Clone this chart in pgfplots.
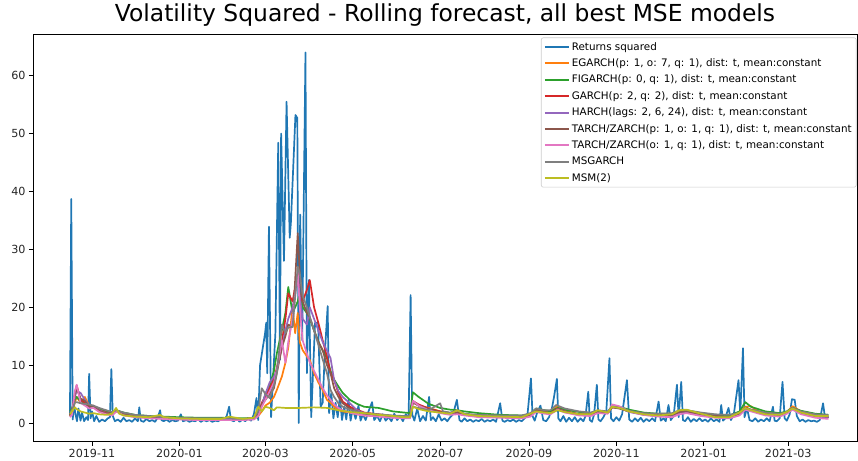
\documentclass[border=0pt]{standalone}
\usepackage{fontspec}
\setmainfont{DejaVu Sans}
\usepackage{pgfplots}
\pgfplotsset{compat=1.18}
\definecolor{c0}{HTML}{1F77B4}
\definecolor{c1}{HTML}{FF7F0E}
\definecolor{c2}{HTML}{2CA02C}
\definecolor{c3}{HTML}{D62728}
\definecolor{c4}{HTML}{9467BD}
\definecolor{c5}{HTML}{8C564B}
\definecolor{c6}{HTML}{E377C2}
\definecolor{c7}{HTML}{7F7F7F}
\definecolor{c8}{HTML}{BCBD22}
\begin{document}
\begin{tikzpicture}
\begin{axis}[
  name=ax, at={(33bp,19.5bp)}, anchor=south west,
  scale only axis, width=824bp, height=407.5bp,
  xmin=-41.2, xmax=534, ymin=-3.2, ymax=67.2,
  axis line style={black, line width=0.7bp},
  tick style={black, line width=0.7bp},
  tick align=outside, major tick length=4bp,
  xtick={0,61,121,182,243,305,366,427,486},
  xticklabels={2019-11,2020-01,2020-03,2020-05,2020-07,2020-09,2020-11,2021-01,2021-03},
  ytick={0,10,20,30,40,50,60},
  xtick pos=bottom, ytick pos=left,
  /pgf/number format/assume math mode=true,
  ticklabel style={font=\fontsize{11.2}{13}\selectfont, text=black!85},
  xticklabel style={yshift=-0.5bp},
  title={Volatility Squared - Rolling forecast, all best MSE models},
  title style={font=\fontsize{23.5}{27}\selectfont, at={(0.5,1)}, anchor=base, yshift=6.5bp},
  legend cell align=left,
  legend style={at={(1,1)}, anchor=north east, xshift=-0.5bp, yshift=-3.5bp,
    draw=black!20, rounded corners=2pt, font=\fontsize{10.4}{12}\selectfont,
    row sep=3.05bp, inner sep=2.5bp, line width=0.6bp},
  legend image code/.code={\draw[#1, line width=2.1bp] (0bp,0bp) -- (24bp,0bp);},
  every axis plot/.append style={line width=1.7bp, line join=round},
]
% Returns squared
\addplot[c0] coordinates {
(-15.4,1.2) (-14.5,38.7) (-13.5,0.6) (-12.5,3.0) (-11.5,1.5) (-10.5,0.3) (-9.5,2.5) (-8,0.4) (-7,1.8) (-5.5,0.3) (-4,1.0) (-2.8,0.5) (-2,8.5) (-1,0.8) (0,2.0) (1.5,0.3) (3,1.2) (5,0.2) (7,0.6) (9,0.3) (11,0.8) (12.5,1.0) (13.5,9.3) (14.5,1.2) (16,0.3) (18,0.6) (20,0.2) (22,0.9) (24,0.3) (26,0.5) (28,0.2) (30,0.8) (32,0.3) (33,2.7) (34,0.4) (36,0.2) (38,0.7) (40,0.3) (42,0.5) (44,0.2) (46,1.0) (47.5,2.2) (48.5,0.5) (50,0.3) (52,0.6) (54,0.2) (56,0.5) (58,0.3) (60,0.4) (62,1.5) (63.5,0.3) (66,0.5) (68,0.2) (70,0.4) (72,0.3) (74,0.6) (76,0.2) (78,0.5) (80,0.3) (82,0.5) (84,0.2) (86,0.4) (88,0.3) (90,0.6) (92,0.5) (94,1.2) (95.7,2.8) (97,0.5) (99,0.3) (101,0.8) (103,0.2) (105,0.6) (107,0.3) (109,0.8) (111,0.4) (113,1.5) (114.8,4.3) (116,0.5) (117.3,10) (120.8,15.5) (121.6,17.3) (122.3,8.6) (123.5,33.9) (125,1.0) (128,15.5) (130,48.4) (131.2,10.9) (132,50) (134,28) (135.8,55.5) (138,32) (138.8,34.5) (142,53.2) (143.3,52.7) (144.3,0.0) (145.3,36) (146.7,14.3) (149,64) (150,8.6) (151.4,24.7) (153,1.0) (155.7,17.3) (157.8,17.3) (159.6,2.8) (161,3.5) (162.5,12) (164.5,20.2) (165.5,1.7) (167,5.2) (168.5,0.8) (170,3.5) (171.5,1.0) (173,4.5) (174.5,0.5) (176,2.8) (177.5,0.6) (179,4.0) (180.5,0.4) (182,2.5) (184,0.7) (186,3.0) (187.5,0.4) (189,1.5) (191,0.5) (193,2.0) (195.5,3.6) (197,0.5) (199,1.2) (201,0.3) (203,1.5) (205,0.4) (207,1.0) (209,0.3) (211,1.6) (213,0.5) (215,1.2) (217,0.3) (219,1.5) (221,1.0) (222.4,22.1) (223.5,1.5) (225,0.4) (227,2.5) (229,0.3) (231,1.2) (233,0.4) (235.3,4.5) (236.5,0.5) (238,1.0) (240,0.3) (242,1.5) (244,0.4) (246,0.8) (248,0.3) (250,1.0) (252,1.5) (254.7,4.0) (256.5,0.5) (258,0.2) (260,0.8) (262,0.3) (264,0.6) (266,0.2) (268,0.5) (270,0.3) (272,0.7) (274,0.2) (276,0.5) (278,0.3) (280,0.6) (282,0.2) (284.9,3.4) (286.5,0.4) (288,0.2) (290,0.5) (292,0.3) (294,0.6) (296,0.2) (298,0.5) (300,0.3) (302,0.8) (304,1.5) (306.4,7.7) (307.5,1.2) (309,0.4) (311,2.0) (313,3.0) (315,0.5) (317,0.3) (319,1.0) (321,2.5) (322.5,4.5) (324.5,7.6) (325.5,0.8) (327,0.3) (329,1.2) (331,0.2) (333,0.9) (335,0.3) (337,1.0) (339,0.2) (341,0.8) (343,0.3) (344.5,1.2) (346.4,5.4) (347.5,0.5) (349,0.2) (350.5,1.5) (352.4,6.6) (353.5,0.6) (355,0.3) (357,1.0) (359,2.0) (361.2,11.2) (362.3,0.8) (364,0.3) (366,1.0) (368,0.4) (370,1.5) (373.4,7.4) (375,0.6) (377,0.2) (379,0.8) (381,0.3) (383,0.9) (385,0.2) (387,0.7) (389,0.3) (391,0.8) (393,0.3) (395.5,3.7) (397,0.4) (399,0.8) (400.5,0.3) (402.4,3.1) (404,0.5) (406,1.2) (408.3,6.6) (409.5,1.0) (411.3,7.1) (412.5,0.5) (414,0.3) (416,1.0) (418,0.2) (420,0.7) (422,0.3) (424,0.8) (426,0.3) (428,0.6) (430,0.2) (432,0.8) (434,0.3) (436,0.6) (438,0.2) (439.2,3.1) (440.5,0.4) (442,0.8) (444.3,2.6) (446,0.5) (448,1.5) (451.3,7.4) (452.5,1.5) (454.4,12.9) (455.5,1.0) (457.2,2.6) (459,0.5) (461,0.3) (463,0.8) (465,0.2) (467,0.6) (469,0.3) (471,0.8) (473,0.3) (475.3,2.8) (476.5,0.4) (478,0.3) (480,0.8) (482,7.1) (483.5,0.8) (485,0.4) (487,1.5) (488.6,4.1) (490.5,4.0) (492,1.2) (494,0.3) (496,0.6) (498,0.2) (500,0.5) (502,0.3) (504,0.4) (506,0.2) (508,0.5) (510.3,3.4) (511.5,1.2) (513,0.8) (514,1.1)
};
\addlegendentry{Returns squared}
% EGARCH
\addplot[c1] coordinates {
(-15.4,1.2) (-14,1.8) (-12,3.5) (-10.7,4.5) (-8,3.5) (-5,4.5) (-2,3.0) (1,2.8) (5,2.0) (10,1.6) (14,1.4) (17,2.0) (22,1.4) (30,1.1) (40,0.9) (50,0.8) (60,0.7) (75,0.6) (90,0.6) (105,0.6) (113,0.7) (116,1.2) (118.5,2.0) (121,3.0) (124,3.5) (127,4.5) (129,5.7) (132.5,8) (135,10.4) (137,13) (140,20) (141.8,15.5) (143.6,19) (145,14) (147,12.6) (150,11.5) (152,10.9) (155,8.6) (158,7.0) (161,5.7) (164,4.0) (166.5,3.5) (169,2.8) (172,2.2) (175,2.0) (180,1.8) (185,1.5) (190,1.3) (200,1.2) (210,1.0) (218,0.9) (222,0.9) (224,3.6) (228,3.0) (235,2.6) (243,2.0) (250,1.7) (255,1.8) (260,1.5) (270,1.2) (285,1.1) (300,1.0) (306,1.4) (310,2.3) (316,2.0) (320,1.8) (325,3.0) (330,2.1) (340,1.5) (348,1.5) (353,2.0) (360,1.8) (363,2.8) (368,2.6) (375,2.0) (385,1.5) (395,1.3) (405,1.3) (410,2.0) (415,2.1) (425,1.5) (435,1.2) (445,1.1) (452,1.8) (456,2.8) (460,2.9) (463,2.3) (470,1.6) (480,1.4) (485,1.9) (489,2.9) (495,2.0) (505,1.2) (514,1.3)
};
\addlegendentry{EGARCH(p: 1, o: 7, q: 1), dist: t, mean:constant}
% FIGARCH
\addplot[c2] coordinates {
(-15.4,2.0) (-14,2.5) (-12,4.0) (-10.7,4.5) (-8,3.8) (-5,3.2) (-2,3.0) (1,2.8) (5,2.4) (10,2.0) (14,1.8) (17,2.2) (22,1.8) (30,1.4) (40,1.2) (50,1.1) (60,1.0) (75,0.9) (90,0.9) (105,0.8) (113,0.9) (116,1.5) (118.5,3.0) (121,5.0) (124,6.5) (127,9.0) (129,12) (132.5,16) (135,19) (137,23.5) (140,19) (143.6,21) (145,22.4) (147,20) (150,19) (152,18) (155,16) (158,14) (161,12.5) (164,11.2) (166.5,9) (169,7.5) (172,6.3) (175,5.2) (180,4.0) (185,3.3) (190,2.8) (200,2.6) (210,2.0) (218,1.8) (222,1.7) (224,5.3) (228,4.5) (235,3.3) (243,2.6) (250,2.3) (255,2.2) (260,2.0) (270,1.7) (285,1.4) (300,1.3) (306,1.5) (310,2.5) (316,2.2) (320,2.0) (325,2.6) (330,2.3) (340,1.9) (348,1.7) (353,2.0) (360,1.9) (363,2.9) (368,2.8) (375,2.3) (385,1.8) (395,1.6) (405,1.6) (410,2.1) (415,2.2) (425,1.7) (435,1.4) (445,1.3) (452,2.0) (456,3.6) (460,2.8) (470,2.0) (480,1.7) (485,2.0) (489,2.6) (495,2.1) (505,1.6) (514,1.4)
};
\addlegendentry{FIGARCH(p: 0, q: 1), dist: t, mean:constant}
% GARCH
\addplot[c3] coordinates {
(-15.4,1.5) (-14,2.0) (-12,5.0) (-10.7,6.5) (-8,4.0) (-5,3.5) (-2,2.8) (1,3.0) (5,2.2) (10,1.8) (14,1.5) (17,2.2) (22,1.5) (30,1.2) (40,1.0) (50,0.9) (60,0.8) (75,0.7) (90,0.7) (105,0.6) (113,0.8) (116,1.5) (118.5,3.5) (121,4.5) (124,6.0) (127,7.5) (129,9.5) (132.5,14) (135,18) (137,22.4) (140,21) (143.6,25.9) (145,22) (147,21) (150,23) (152,24.7) (155,20) (158,17.3) (161,14.3) (164,11.4) (166.5,8.6) (169,7.4) (172,5.2) (175,3.7) (180,2.8) (185,2.3) (190,1.8) (200,1.5) (210,1.2) (218,1.0) (222,1.0) (224,3.8) (228,3.2) (235,2.5) (243,2.0) (250,1.7) (255,1.8) (260,1.5) (270,1.2) (285,1.1) (300,1.0) (306,1.3) (310,2.2) (316,1.8) (320,1.7) (325,2.5) (330,2.0) (340,1.5) (348,1.4) (353,1.8) (360,1.7) (363,2.7) (368,2.6) (375,2.0) (385,1.5) (395,1.3) (405,1.4) (410,1.9) (415,2.0) (425,1.5) (435,1.2) (445,1.0) (452,1.6) (456,2.6) (460,2.2) (470,1.6) (480,1.4) (485,1.8) (489,2.5) (495,1.8) (505,1.2) (514,1.0)
};
\addlegendentry{GARCH(p: 2, q: 2), dist: t, mean:constant}
% HARCH
\addplot[c4] coordinates {
(-15.4,1.3) (-14,1.5) (-12,4.5) (-10.7,5.5) (-8,5.2) (-5,4.0) (-2,3.0) (1,2.8) (5,2.2) (10,1.7) (14,1.5) (17,2.1) (22,1.5) (30,1.1) (40,0.9) (50,0.8) (60,0.7) (75,0.6) (90,0.6) (105,0.6) (113,0.8) (116,1.4) (118.5,3.0) (121,5.0) (124,7.0) (127,8.0) (129,9.0) (132.5,13) (135,16) (137,18) (140,20) (143.6,25) (145,22) (147,18) (150,17) (152,20) (155,18) (158,16) (161,14) (164,12.5) (166.5,11.2) (169,7.4) (172,5.5) (175,4.5) (180,3.4) (185,2.2) (190,1.7) (200,1.3) (210,1.0) (218,0.9) (222,0.9) (224,3.8) (228,3.0) (235,2.3) (243,1.8) (250,1.6) (255,1.7) (260,1.4) (270,1.2) (285,1.0) (300,1.0) (306,1.3) (310,2.0) (316,1.8) (320,1.6) (325,2.4) (330,2.0) (340,1.4) (348,1.3) (353,1.8) (360,1.7) (363,2.8) (368,2.6) (375,1.9) (385,1.4) (395,1.2) (405,1.3) (410,1.8) (415,1.9) (425,1.4) (435,1.1) (445,1.0) (452,1.6) (456,2.6) (460,2.2) (470,1.5) (480,1.3) (485,1.7) (489,2.4) (495,1.7) (505,1.1) (514,1.0)
};
\addlegendentry{HARCH(lags: 2, 6, 24), dist: t, mean:constant}
% TARCH p1 o1 q1
\addplot[c5] coordinates {
(-15.4,1.4) (-14,1.8) (-12,4.8) (-10.7,6.0) (-8,4.2) (-5,3.8) (-2,2.9) (1,2.8) (5,2.1) (10,1.7) (14,1.5) (17,2.2) (22,1.5) (30,1.2) (40,1.0) (50,0.9) (60,0.8) (75,0.7) (90,0.7) (105,0.6) (113,0.8) (116,1.5) (118.5,3.2) (121,4.0) (124,5.0) (127,6.0) (129,8.6) (132.5,13) (135,15) (137,17) (140,16.6) (143.6,32.8) (145,26) (147,21) (150,19) (152,18.3) (155,16) (158,14) (161,12.6) (164,10) (166.5,8.6) (169,6) (172,4.5) (175,3.4) (180,2.5) (185,2.0) (190,1.6) (200,1.3) (210,1.1) (218,1.0) (222,1.0) (224,3.5) (228,3.0) (235,2.4) (243,1.9) (250,1.7) (255,1.8) (260,1.5) (270,1.2) (285,1.1) (300,1.0) (306,1.3) (310,2.2) (316,1.9) (320,1.7) (325,2.4) (330,2.0) (340,1.5) (348,1.4) (353,1.8) (360,1.7) (363,2.7) (368,2.5) (375,2.0) (385,1.5) (395,1.3) (405,1.4) (410,1.9) (415,2.0) (425,1.5) (435,1.2) (445,1.0) (452,1.6) (456,2.7) (460,2.3) (470,1.6) (480,1.4) (485,1.8) (489,2.5) (495,1.8) (505,1.2) (514,1.1)
};
\addlegendentry{TARCH/ZARCH(p: 1, o: 1, q: 1), dist: t, mean:constant}
% TARCH o1 q1
\addplot[c6] coordinates {
(-15.4,1.0) (-14,1.4) (-12,5.5) (-10.7,6.6) (-8,3.5) (-5,3.0) (-2,2.5) (1,2.6) (5,1.9) (10,1.5) (14,1.3) (17,2.0) (22,1.3) (30,1.0) (40,0.8) (50,0.7) (60,0.6) (75,0.5) (90,0.5) (105,0.5) (113,0.6) (116,1.2) (118.5,2.8) (121,4.0) (124,5.5) (127,7.0) (129,9.0) (132.5,14.3) (135,10.4) (137,14) (140,18) (143.6,26) (145,20) (147,14.3) (150,12) (152,10.5) (155,9) (158,7.5) (161,6.0) (164,4.8) (166.5,4.0) (169,3.2) (172,2.6) (175,2.2) (180,1.8) (185,1.5) (190,1.3) (200,1.1) (210,0.9) (218,0.8) (222,0.8) (224,3.8) (228,3.0) (235,2.2) (243,1.7) (250,1.4) (255,1.5) (260,1.3) (270,1.0) (285,0.9) (300,0.8) (306,1.1) (310,1.9) (316,1.6) (320,1.5) (325,2.3) (330,1.8) (340,1.3) (348,1.2) (353,1.7) (360,1.6) (363,3.2) (368,2.9) (375,2.0) (385,1.4) (395,1.1) (405,1.0) (410,1.5) (415,1.7) (425,1.2) (435,0.9) (445,0.8) (452,1.3) (456,2.3) (460,2.0) (470,1.3) (480,1.1) (485,1.6) (489,2.3) (495,1.5) (505,0.9) (514,0.7)
};
\addlegendentry{TARCH/ZARCH(o: 1, q: 1), dist: t, mean:constant}
% MSGARCH
\addplot[c7] coordinates {
(-15.4,1.8) (-14,2.2) (-12,3.5) (-10.7,3.6) (-8,3.4) (-5,3.3) (-2,3.2) (1,3.0) (5,2.6) (10,2.2) (14,1.9) (17,2.2) (22,1.8) (30,1.4) (40,1.2) (50,1.0) (60,0.9) (75,0.8) (90,0.8) (105,0.7) (113,0.9) (116,2.0) (118.5,6.0) (121,5.0) (124,4.3) (127,6.5) (129,8.6) (132.5,17) (135,15.5) (137,16.5) (140,16.6) (143.6,27) (145,25.9) (147,22) (150,20) (152,18.3) (155,16) (158,13.5) (161,11) (164,8.6) (166.5,5.7) (169,4.5) (172,3.4) (175,2.8) (180,2.3) (185,2.0) (190,1.7) (200,1.5) (210,1.3) (218,1.2) (222,1.2) (224,2.8) (228,2.6) (235,2.2) (243,3.4) (245,2.0) (250,1.8) (255,2.2) (260,1.6) (270,1.4) (285,1.3) (300,1.3) (306,1.7) (310,2.5) (316,2.2) (320,2.2) (324,3.1) (330,2.5) (340,2.0) (348,1.8) (353,2.2) (360,2.0) (363,2.8) (368,2.6) (375,2.1) (385,1.7) (395,1.6) (405,1.7) (410,2.2) (415,2.2) (425,1.8) (435,1.5) (445,1.4) (452,1.8) (456,2.5) (460,2.3) (470,1.8) (480,1.6) (485,1.9) (489,2.6) (495,2.0) (505,1.5) (514,1.4)
};
\addlegendentry{MSGARCH}
% MSM(2)
\addplot[c8] coordinates {
(-15.4,1.5) (-14,2.0) (-12,2.7) (-10.7,2.4) (-8,2.0) (-5,1.8) (-2,1.6) (1,1.7) (5,1.5) (10,1.4) (14,1.6) (16.8,2.6) (19,1.6) (22,1.3) (30,1.1) (40,1.0) (47.5,1.4) (50,1.0) (60,0.8) (75,0.7) (90,0.7) (96,1.1) (105,0.7) (113,0.9) (116,2.8) (118.5,2.0) (121,2.8) (124,2.6) (127,2.2) (129,2.7) (135,2.6) (145,2.6) (155,2.7) (164,2.6) (170,2.3) (180,1.9) (190,1.7) (200,1.4) (210,1.2) (218,1.0) (222,1.0) (224,2.8) (228,2.4) (235,2.0) (243,1.8) (250,1.6) (255,2.2) (260,1.5) (270,1.2) (285,1.1) (300,1.0) (306,1.6) (310,2.0) (316,1.8) (320,1.7) (325,2.2) (330,1.9) (340,1.5) (348,1.5) (353,2.2) (360,1.8) (363,2.8) (368,2.6) (375,2.0) (385,1.5) (395,1.3) (405,1.5) (410,2.2) (415,2.3) (425,1.6) (435,1.0) (445,1.0) (452,1.8) (456,2.6) (460,2.2) (470,1.5) (480,1.4) (485,1.9) (489,2.5) (495,1.8) (505,1.2) (514,1.2)
};
\addlegendentry{MSM(2)}
\end{axis}
\pgfresetboundingbox
\path[use as bounding box] (0,0) rectangle (858bp,461bp);
\end{tikzpicture}
\end{document}
